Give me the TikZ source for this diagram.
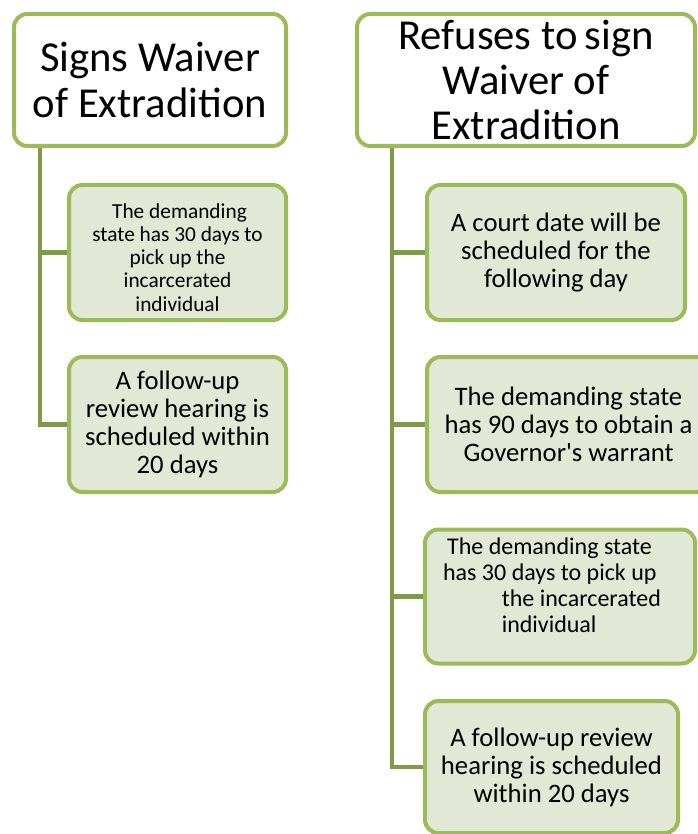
\documentclass[tikz,border=0pt]{standalone}
\usepackage{fontspec}
\setmainfont{Carlito}
\usepackage{tikz}
\usetikzlibrary{positioning}
\usetikzlibrary{backgrounds}
\definecolor{boxgreen}{HTML}{9BBB59}
\definecolor{trunkgreen}{HTML}{7F9A48}
\definecolor{boxfill}{HTML}{E1E8D5}

\begin{document}
\begin{tikzpicture}[x=0.75pt,y=-0.75pt,
        headbox/.style={draw=boxgreen,line width=3pt,rounded corners=10pt,fill=white,inner sep=0pt,align=center,font=\fontsize{32}{34}\selectfont},
        stepbox/.style={draw=boxgreen,line width=3pt,rounded corners=10pt,fill=boxfill,inner sep=0pt,align=center,font=\fontsize{20}{21}\selectfont},
        trunk/.style={draw=trunkgreen,line width=3.5pt}]
                \pgfmathsetmacro{\pxu}{0.75}
                \clip (0,0) rectangle (698,834);
                % left column
                \node[headbox,minimum width=272*\pxu pt,minimum height=132*\pxu pt] (H1) at (150,80) {Signs Waiver\\of Extradition};
                \node[stepbox,minimum width=217*\pxu pt,minimum height=135*\pxu pt,font=\fontsize{16}{17.3}\selectfont] (L1) at (177.5,252.5) {\hspace*{3pt}The demanding\\state has 30 days to\\pick up the\\incarcerated\\individual\\[-24.8pt]};
                \node[stepbox,minimum width=217*\pxu pt,minimum height=135*\pxu pt] (L2) at (177.5,424.5) {A follow-up\\review hearing is\\scheduled within\\20 days};
                % right column
                \node[headbox,minimum width=338*\pxu pt,minimum height=132*\pxu pt] (H2) at (526,80) {Refuses to\,sign\\Waiver of\\Extradition};
                \node[stepbox,minimum width=258*\pxu pt,minimum height=135*\pxu pt] (R1) at (556,252.5) {A court date will be\\scheduled for the\\following day};
                \node[stepbox,minimum width=283*\pxu pt,minimum height=135*\pxu pt] (R2) at (568.5,424.5) {The demanding state\\has 90 days to obtain a\\Governor\textquotesingle s warrant};
                \node[stepbox,minimum width=270*\pxu pt,minimum height=134*\pxu pt,align=left,font=\fontsize{18}{19.5}\selectfont] (R3) at (560,596.5) {\hspace*{3pt}The demanding state\\has 30 days to pick up\\\hspace*{44pt}the incarcerated\rule{12pt}{0pt}\\\hspace*{44pt}individual\\[-3pt]};
                \node[stepbox,minimum width=253*\pxu pt,minimum height=132*\pxu pt] (R4) at (551.5,767) {A follow-up review\\hearing is scheduled\\within 20 days};
                % trunks, behind the boxes
                \coordinate (T1) at (40,146);
                \coordinate (T2) at (392,146);
                \begin{scope}[on background layer]
                \draw[trunk] (T1) |- (L2.west);
                \draw[trunk] (T1 |- L1.west) -- (L1.west);
                \draw[trunk] (T2) |- (R4.west);
                \draw[trunk] (T2 |- R1.west) -- (R1.west);
                \draw[trunk] (T2 |- R2.west) -- (R2.west);
                \draw[trunk] (T2 |- R3.west) -- (R3.west);
                \end{scope}
\end{tikzpicture}
\end{document}
